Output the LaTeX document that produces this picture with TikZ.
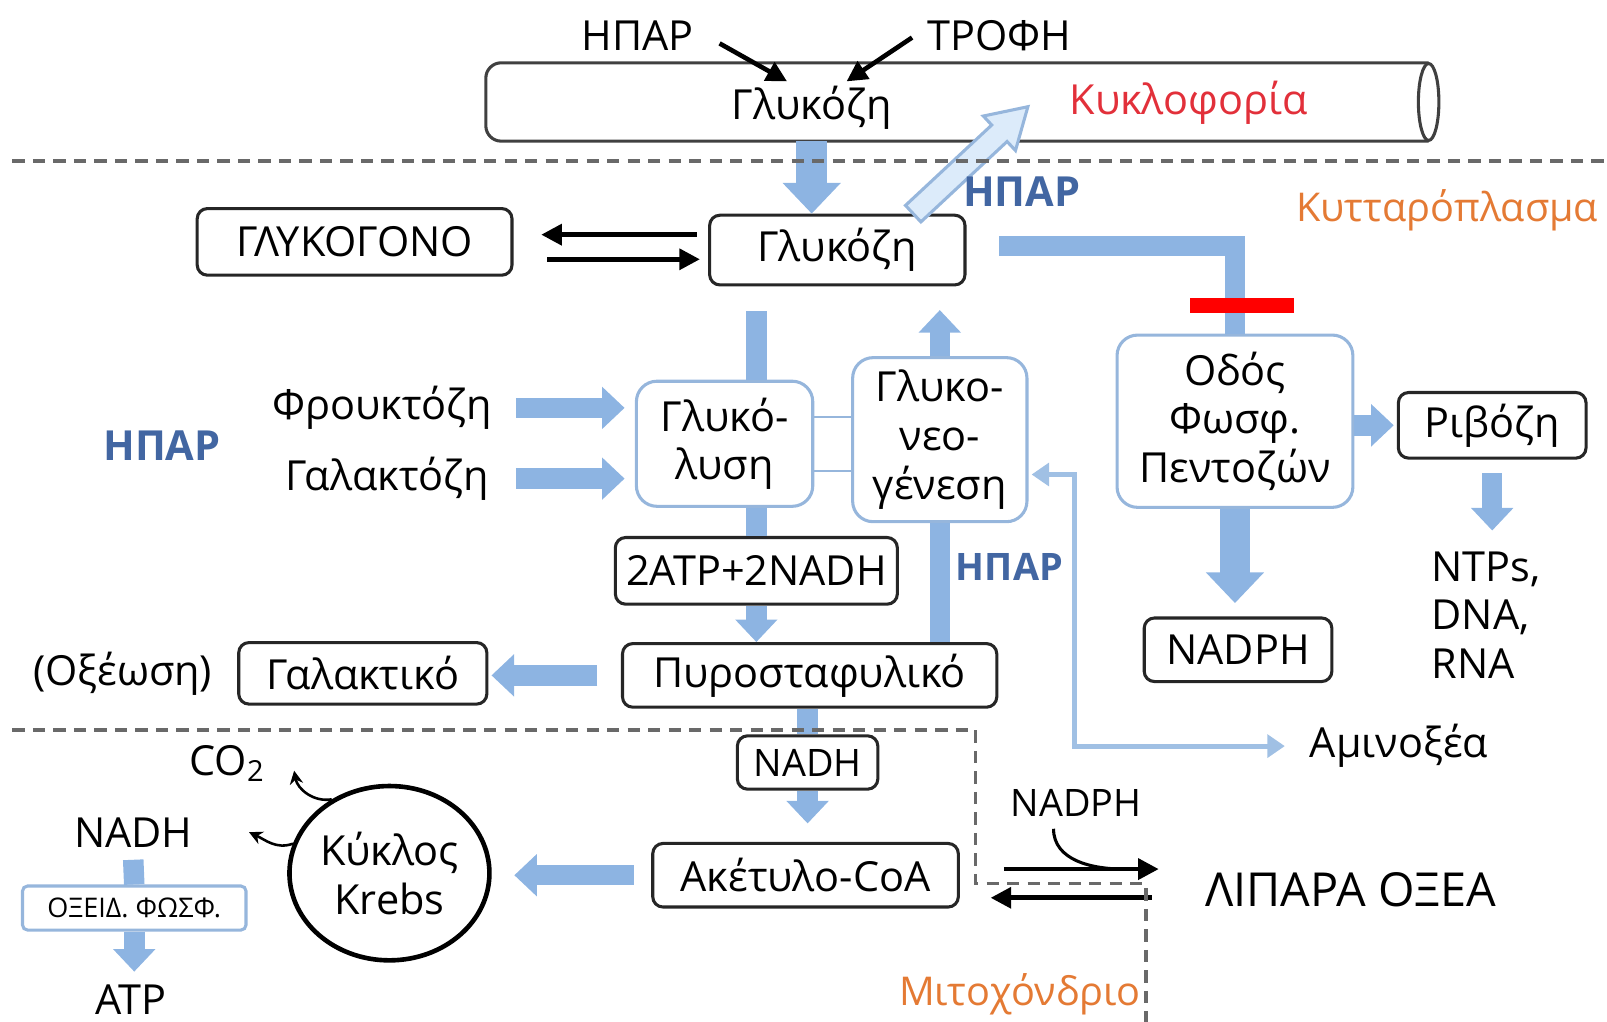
\documentclass[tikz,border=0pt]{standalone}
\usepackage{fontspec}
\setmainfont{Open Sans}
\usepackage{tikz}
\usetikzlibrary{shapes.geometric,arrows.meta,positioning,calc}
\definecolor{flowblue}{RGB}{141,180,226}
\definecolor{edgeblue}{RGB}{150,182,220}
\definecolor{paleblue}{RGB}{220,235,250}
\definecolor{aminoblue}{RGB}{160,192,228}
\definecolor{liverblue}{RGB}{66,102,162}
\definecolor{orange}{RGB}{228,122,52}
\definecolor{bloodred}{RGB}{226,48,58}
\definecolor{membrane}{RGB}{105,105,105}

\begin{document}
\begin{tikzpicture}[x=0.01cm,y=-0.01cm,font=\fontsize{11.5}{13.5}\selectfont,
  box/.style={draw=black!85,fill=white,line width=0.03cm,rounded corners=0.1cm,align=center,inner sep=0pt},
  proc/.style={draw=edgeblue,fill=white,line width=0.03cm,rounded corners=0.2cm,align=center,inner sep=0pt},
  liver/.style={text=liverblue,font=\fontsize{11.5}{13.5}\selectfont\bfseries},
  shaft/.style={flowblue,line width=0.2cm},
  fat/.style={flowblue,line width=0.2cm,-{Triangle[length=0.22cm,width=0.4cm]}},
  bigfat/.style={flowblue,line width=0.3cm,-{Triangle[length=0.3cm,width=0.55cm]}},
  blk/.style={black,line width=0.045cm,-{Triangle[length=0.2cm,width=0.2cm]}},
  curvy/.style={black,line width=0.025cm,-{Stealth[length=0.13cm,width=0.13cm]}},
  aminoline/.style={aminoblue,line width=0.05cm,{Triangle[length=0.17cm,width=0.22cm]}-{Triangle[length=0.17cm,width=0.22cm]}},
  membrane line/.style={membrane,line width=0.035cm,dash pattern=on 0.12cm off 0.08cm}
]
  \useasboundingbox (0,0) rectangle (1568,997);

  \node[minimum width=9.18cm,minimum height=0.75cm,inner sep=0pt] (tube) at (934,99.5) {};
  \draw[black!75,line width=0.03cm,rounded corners=0.15cm] (tube.north east) -- (tube.north west) -- (tube.south west) -- (tube.south east);
  \draw[black!75,line width=0.03cm] (tube.east) ellipse [x radius=0.1cm,y radius=0.375cm];
  \node (glcblood) at (792,105) {Γλυκόζη};
  \node[text=bloodred] (blood) at (1160,100) {Κυκλοφορία};
  \node (hepar) at (622,35) {ΗΠΑΡ};
  \node (food) at (975,35) {ΤΡΟΦΗ};
  \draw[blk,shorten <=0.15cm] (hepar.east) -- ([xshift=-0.24cm,yshift=-0.08cm]glcblood.north);
  \draw[blk,shorten <=0.03cm] (food.west) -- ([xshift=0.34cm,yshift=-0.08cm]glcblood.north);

  \node[text=orange,font=\fontsize{11}{13}\selectfont] (cyto) at (1412,205) {Κυτταρόπλασμα};
  \node[text=orange,font=\fontsize{11}{13}\selectfont] (mito) at (995,970) {Μιτοχόνδριο};

  \node[box,minimum width=3.07cm,minimum height=0.65cm] (glycogen) at (346,236) {ΓΛΥΚΟΓΟΝΟ};
  \node[box,minimum width=2.49cm,minimum height=0.68cm] (glc) at (817,244) {Γλυκόζη};
  \draw[blk,shorten <=0.11cm,shorten >=0.27cm] ([yshift=0.15cm]glc.west) -- ([yshift=0.15cm]glc.west -| glycogen.east);
  \draw[blk,shorten <=0.33cm,shorten >=0.08cm] ([yshift=-0.09cm]glc.west -| glycogen.east) -- ([yshift=-0.09cm]glc.west);
  \draw[bigfat] (glcblood.south |- tube.south) -- (glcblood.south |- glc.north);
  \begin{scope}[shift={([xshift=0.74cm]glc.north)},rotate=43]
    \draw[draw=edgeblue,fill=paleblue,line width=0.03cm] (0,-11) -- (115,-11) -- (115,-23) -- (153,0) -- (115,23) -- (115,11) -- (0,11) -- cycle;
  \end{scope}
  \node[liver] (hepar1) at (997,187) {ΗΠΑΡ};

  \node[proc,minimum width=1.72cm,minimum height=1.22cm] (glycolysis) at (707,433) {Γλυκό-\\λυση};
  \node[proc,minimum width=1.70cm,minimum height=1.60cm] (gng) at (917,429) {Γλυκο-\\νεο-\\γένεση};
  \node[box,minimum width=2.75cm,minimum height=0.65cm] (atp2) at (738,557) {2ATP+2NADH};
  \node[box,minimum width=3.65cm,minimum height=0.62cm] (pyr) at (790,659) {Πυροσταφυλικό};
  \draw[shaft] ([yshift=-0.24cm]glc.south -| atp2.north) -- (atp2.north |- glycolysis.north);
  \draw[shaft] (atp2.north |- glycolysis.south) -- (atp2.north);
  \draw[fat] (atp2.south) -- (atp2.south |- pyr.north);
  \draw[fat,shorten >=0.23cm] (gng.north) -- (gng.north |- glc.south);
  \draw[shaft] (gng.south) -- (gng.south |- pyr.north);
  \draw[edgeblue,line width=0.02cm] ([yshift=0.26cm]glycolysis.east) -- ([yshift=0.26cm]glycolysis.east -| gng.west);
  \draw[edgeblue,line width=0.02cm] ([yshift=-0.27cm]glycolysis.east) -- ([yshift=-0.27cm]glycolysis.east -| gng.west);
  \node[liver,font=\fontsize{10.5}{12}\selectfont\bfseries] (hepar3) at (985,553) {ΗΠΑΡ};

  \node (fru) at (373,398) {Φρουκτόζη};
  \node (gal) at (378,467) {Γαλακτόζη};
  \node[liver] (hepar2) at (158,435) {ΗΠΑΡ};
  \draw[fat,shorten >=0.1cm] ($(glycolysis.west |- fru)+(-116,0)$) -- (glycolysis.west |- fru);
  \draw[fat,shorten >=0.1cm] ($(glycolysis.west |- gal)+(-116,0)$) -- (glycolysis.west |- gal);

  \node[proc,minimum width=2.30cm,minimum height=1.68cm] (ppp) at (1205,411) {Οδός\\Φωσφ.\\Πεντοζών};
  \draw[flowblue,line width=0.19cm] ($(glc.east)+(32,-4)$) -| (ppp.north);
  \node[fill=red,minimum width=1.01cm,minimum height=0.15cm,inner sep=0pt] (block) at (1212,298) {};
  \node[box,minimum width=1.83cm,minimum height=0.64cm] (ribose) at (1456,415) {Ριβόζη};
  \node[align=left] (ntps) at (1450,600) {NTPs,\\DNA,\\RNA};
  \node[box,minimum width=1.83cm,minimum height=0.62cm] (nadph) at (1208,634) {NADPH};
  \draw[fat,shorten >=0.03cm] (ppp.east |- ribose) -- (ribose.west);
  \draw[fat,shorten <=0.13cm,shorten >=0.08cm] (ribose.south) -- (ribose.south |- ntps.north);
  \draw[bigfat,shorten >=0.13cm] (ppp.south) -- (ppp.south |- nadph.north);

  \node[box,minimum width=2.42cm,minimum height=0.60cm] (lactate) at (354,657) {Γαλακτικό};
  \node[left=0.12cm of lactate] (acidosis) {(Οξέωση)};
  \draw[fat,shorten <=0.23cm,shorten >=0.03cm] (pyr.west) -- (pyr.west -| lactate.east);

  \node[box,minimum width=1.37cm,minimum height=0.52cm,font=\fontsize{10.5}{12}\selectfont] (nadh) at (788,744) {NADH};
  \node[box,minimum width=2.98cm,minimum height=0.62cm] (acoa) at (786,854) {Ακέτυλο-CoA};
  \draw[shaft] (pyr.south -| nadh.north) -- (nadh.north);
  \draw[fat,shorten >=0.18cm] (nadh.south) -- (nadh.south |- acoa.north);

  \node[ellipse,draw,line width=0.045cm,minimum width=1.95cm,minimum height=1.70cm,align=center,inner sep=0pt] (krebs) at (380,852) {Κύκλος\\Krebs};
  \draw[fat,shorten <=0.17cm,shorten >=0.22cm] (acoa.west) -- (acoa.west -| krebs.east);
  \node (co2) at (222,745) {CO\textsubscript{2}};
  \node (nadh2) at (130,812) {NADH};
  \coordinate (co2tip) at (287,752);
  \coordinate (nadhtip) at (243,812);
  \draw[curvy] (krebs.128) to[out=190,in=-80] (co2tip);
  \draw[curvy] (krebs.163) to[out=200,in=-25] (nadhtip);
  \node[proc,rounded corners=0.05cm,minimum width=2.18cm,minimum height=0.43cm,font=\fontsize{7.5}{9}\selectfont] (oxphos) at (131,886) {ΟΞΕΙΔ. ΦΩΣΦ.};
  \node (atp) at (128,975) {ATP};
  \draw[shaft] (nadh2.south) -- (oxphos.north);
  \draw[fat] (oxphos.south) -- (oxphos.south |- atp.north);

  \node[font=\fontsize{13}{15}\selectfont] (lipids) at (1318,868) {ΛΙΠΑΡΑ ΟΞΕΑ};
  \node[font=\fontsize{10.5}{12}\selectfont] (nadphlbl) at (1050,783) {NADPH};
  \draw[blk,shorten <=0.43cm,shorten >=0.33cm] ([yshift=0.06cm]acoa.east) -- ([yshift=0.06cm]acoa.east -| lipids.west);
  \draw[blk,shorten <=0.4cm,shorten >=0.3cm] ([yshift=-0.22cm]acoa.east -| lipids.west) -- ([yshift=-0.22cm]acoa.east);
  \draw[black,line width=0.03cm] ([xshift=-0.22cm]nadphlbl.south) to[out=-90,in=180] ($(acoa.east)+(160,-6)$);

  \node (amino) at (1365,728) {Αμινοξέα};
  \draw[aminoline,shorten >=0.12cm] ($(gng.east)+(3,34)$) -- ++(42,0) |- (amino.west);

  \draw[membrane line] (12,157) -- (1568,157);
  \draw[membrane line] (12,712) -- (952,712) -- (952,862) -- (1118,862) -- (1118,997);
\end{tikzpicture}
\end{document}
